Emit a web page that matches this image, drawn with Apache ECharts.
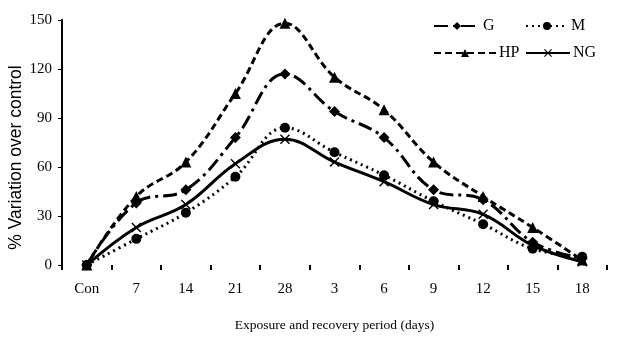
<!DOCTYPE html>
<html>
<head>
<meta charset="utf-8">
<script src="https://cdn.jsdelivr.net/npm/echarts@6/dist/echarts.min.js"></script>
<style>
  html, body { margin: 0; padding: 0; background: #fff; }
  #chart { width: 617px; height: 352px; }
</style>
</head>
<body>
<div id="chart"></div>
<script>
// categories and series
const periods = ['Con', '7', '14', '21', '28', '3', '6', '9', '12', '15', '18'];
const gValues = [0, 38, 46, 78, 117, 94, 78, 46, 40, 14, 4];
const mValues = [0, 16, 32, 54, 84, 69, 55, 39, 25, 10, 5];
const hpValues = [0, 42, 63, 105, 148, 115, 95, 63, 42, 23, 3];
const ngValues = [0, 23, 37, 62, 77, 63, 51, 37, 31, 12, 2];

const font = 'Liberation Serif';
const crossIcon = 'path://M0,1L1,0L5,4L9,0L10,1L6,5L10,9L9,10L5,6L1,10L0,9L4,5Z';

const makeSeries = (name, data, symbol, size, dash) => ({
  name,
  type: 'line',
  data,
  smooth: 0.4,
  symbol,
  symbolSize: size,
  color: '#000',
  itemStyle: { color: '#000' },
  lineStyle: { color: '#000', width: 3, type: dash },
});

// one legend block per entry, laid out as 2 x 2
const legendItem = (name, left, top, width) => ({
  data: [name],
  left, top,
  itemWidth: width, itemHeight: 10, itemGap: 0,
  textStyle: { fontFamily: font, fontSize: 16, color: '#000', padding: [0, 0, 0, -2] },
});

const myChart = echarts.init(document.getElementById('chart'));
const option = {
  animation: false,
  backgroundColor: '#fff',
  textStyle: { fontFamily: font, color: '#000' },
  grid: { left: 62, right: 10, top: 20, bottom: 87, outerBoundsMode: 'none' },
  legend: [
    legendItem('G', 428, 13, 46),
    legendItem('M', 520, 13, 42),
    legendItem('HP', 428, 40, 62),
    legendItem('NG', 520, 40, 44),
  ],
  xAxis: {
    type: 'category',
    data: periods,
    boundaryGap: true,
    name: 'Exposure and recovery period (days)',
    nameLocation: 'middle',
    nameGap: 53,
    nameTextStyle: { fontFamily: font, fontSize: 13.5, color: '#000' },
    axisLine: { show: false },
    axisTick: { show: true, length: 5, lineStyle: { color: '#000', width: 2 } },
    axisLabel: { color: '#000', fontFamily: font, fontSize: 15, margin: 17 },
  },
  yAxis: {
    type: 'value',
    min: 0, max: 150, interval: 30,
    name: '% Variation over control',
    nameLocation: 'middle',
    nameGap: 37,
    nameMoveOverlap: false,
    nameTextStyle: {
      fontFamily: 'Liberation Sans', fontSize: 17.5, color: '#000',
      padding: [0, 30, 0, 0],
    },
    axisLine: { show: true, lineStyle: { color: '#000', width: 2 } },
    axisTick: { show: true, length: 4, lineStyle: { color: '#000', width: 1 } },
    splitLine: { show: false },
    axisLabel: { color: '#000', fontFamily: font, fontSize: 15, margin: 10 },
  },
  series: [
    makeSeries('G', gValues, 'diamond', 11, [14, 5, 3, 5]),
    makeSeries('M', mValues, 'circle', 10, [2, 4]),
    makeSeries('HP', hpValues, 'triangle', 11, [7, 4]),
    makeSeries('NG', ngValues, crossIcon, 10, 'solid'),
  ],
};
myChart.setOption(option);
</script>
</body>
</html>
